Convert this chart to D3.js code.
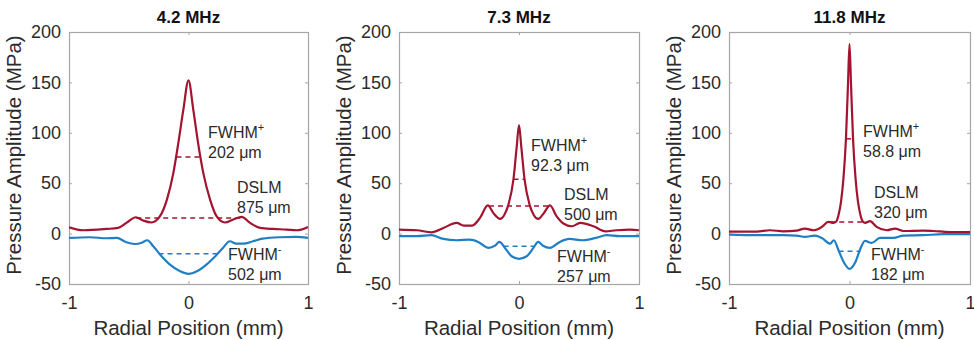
<!DOCTYPE html>
<html>
<head>
<meta charset="utf-8">
<script src="https://cdn.jsdelivr.net/npm/d3@7"></script>
<style>
  html, body { margin: 0; padding: 0; background: #fff; }
  svg { display: block; font-family: "Liberation Sans", Arial, sans-serif; }
</style>
</head>
<body>
<svg id="chart" width="974" height="340"></svg>
<script>
// Focal-plane pressure profiles at three drive frequencies
const titles = ["4.2 MHz", "7.3 MHz", "11.8 MHz"];

// Peak positive pressure profiles, [radial position (mm), pressure (MPa)]
const positive42 = [[-1,6.3],[-0.88,3.3],[-0.685,4.6],[-0.59,5.6],[-0.52,10.6],[-0.44,16.2],[-0.38,13],[-0.31,11],
  [-0.24,17],[-0.18,34],[-0.127,60],[-0.085,90],[-0.043,123],[0,152],[0.04,123],[0.08,90],[0.124,60],[0.18,34],
  [0.236,17],[0.305,11],[0.375,14],[0.445,16.5],[0.515,10.6],[0.6,5.6],[0.71,4.6],[0.82,4],[0.905,3.3],[1,6.6]];
const positive73 = [[-1,4],[-0.85,3.3],[-0.73,1.3],[-0.63,5.6],[-0.52,10.6],[-0.46,8],[-0.39,8],[-0.325,15.6],
  [-0.26,28],[-0.214,20.5],[-0.158,14.6],[-0.125,18],[-0.09,28],[-0.046,54],[-0.02,85],[0,107.6],[0.02,85],
  [0.046,54],[0.09,28],[0.125,18],[0.16,14.6],[0.208,20.5],[0.258,28],[0.314,17],[0.37,10],[0.44,7.3],[0.51,10.6],
  [0.62,7.3],[0.72,2.3],[0.81,3.3],[0.925,4],[1,3.3]];
const positive118 = [[-1,2],[-0.77,2],[-0.66,3.3],[-0.55,2.3],[-0.44,3],[-0.37,5],[-0.3,3.3],[-0.23,6.6],
  [-0.176,11.6],[-0.134,10.6],[-0.11,12],[-0.09,19],[-0.07,32],[-0.05,55],[-0.0294,94],[-0.012,150],[0,188],
  [0.012,150],[0.0294,94],[0.05,55],[0.07,32],[0.09,19],[0.11,12],[0.13,10.6],[0.17,12.3],[0.225,6.6],[0.31,3.3],
  [0.378,5],[0.447,2.6],[0.61,3],[0.695,2.6],[0.83,1.6],[1,1.6]];

// Peak negative pressure profiles, [radial position (mm), pressure (MPa)]
const negative42 = [[-1,-4.3],[-0.825,-3.6],[-0.685,-4.6],[-0.6,-4.3],[-0.52,-8.6],[-0.45,-10.3],[-0.39,-9],
  [-0.345,-6.6],[-0.295,-12.6],[-0.225,-22.5],[-0.155,-30.8],[-0.07,-37.4],[0,-40],[0.07,-37.4],[0.15,-30.8],
  [0.22,-23],[0.29,-14],[0.345,-7.6],[0.4,-10],[0.46,-10],[0.54,-7.6],[0.62,-5],[0.76,-3.6],[0.9,-3.3],[1,-4.3]];
const negative73 = [[-1,-2.6],[-0.85,-2.6],[-0.73,-1.6],[-0.63,-5.3],[-0.52,-6.6],[-0.41,-6],[-0.34,-8.3],
  [-0.255,-14.2],[-0.2,-12],[-0.164,-8.3],[-0.117,-14.2],[-0.061,-22.5],[0,-25],[0.064,-22.5],[0.12,-14.2],
  [0.16,-8.3],[0.2,-12],[0.258,-14.2],[0.34,-8.3],[0.42,-5.3],[0.53,-6.6],[0.64,-4.3],[0.73,-1.6],[0.84,-2.6],[1,-2.6]];
const negative118 = [[-1,-1],[-0.77,-1.6],[-0.55,-1.6],[-0.44,-2],[-0.37,-3.3],[-0.29,-2],[-0.23,-4.3],
  [-0.16,-10],[-0.13,-6.6],[-0.093,-16],[-0.051,-27.6],[0,-35],[0.051,-27.6],[0.087,-16],[0.129,-7.3],
  [0.184,-9.3],[0.253,-4.3],[0.364,-4.3],[0.447,-2],[0.61,-1.6],[0.78,-0.6],[1,-0.6]];

// Beam widths (µm) and the level of the side-lobe maxima (MPa)
const fwhmPositive = [202, 92.3, 58.8];
const fwhmNegative = [502, 257, 182];
const dslmWidth = [875, 500, 320];
const dslmLevel = [15.5, 27.5, 11.5];

// Axis ticks
const xTicks = [-1, 0, 1];
const yTicks = [-50, 0, 50, 100, 150, 200];

const positiveSeries = [positive42, positive73, positive118];
const negativeSeries = [negative42, negative73, negative118];

// Layout
const panelLeft = [69, 399, 729];
const panelRight = [308, 639, 970];
const plotTop = 32, plotBottom = 284;
const labelPos = [
  { fp: [139, 106], dslm: [168, 161], fn: [159, 228] },
  { fp: [132, 119], dslm: [165, 168], fn: [158, 230] },
  { fp: [134, 105], dslm: [145, 166], fn: [142, 228] }
];
const red = "#a2142f", blue = "#1f7fc4";
const boxColor = "#a6a6a6", textColor = "#2b2b2b";
const tickFormat = d => String(d); // plain hyphen-minus for negatives

const svg = d3.select("#chart");

titles.forEach((title, i) => {
  const x = d3.scaleLinear().domain([-1, 1]).range([panelLeft[i], panelRight[i]]);
  const y = d3.scaleLinear().domain([-50, 200]).range([plotBottom, plotTop]);
  const g = svg.append("g");
  const w = panelRight[i] - panelLeft[i];

  const clipId = "clip" + i;
  g.append("clipPath").attr("id", clipId).append("rect")
    .attr("x", panelLeft[i]).attr("y", plotTop).attr("width", w).attr("height", plotBottom - plotTop);

  // Axes with inward ticks on all four sides
  const tickLen = 3;
  const axisB = d3.axisBottom(x).tickValues(xTicks).tickSizeInner(-tickLen).tickSizeOuter(0).tickPadding(12).tickFormat(tickFormat);
  const axisT = d3.axisTop(x).tickValues(xTicks).tickSizeInner(-tickLen).tickSizeOuter(0).tickFormat("");
  const axisL = d3.axisLeft(y).tickValues(yTicks).tickSizeInner(-tickLen).tickSizeOuter(0).tickPadding(8).tickFormat(tickFormat);
  const axisR = d3.axisRight(y).tickValues(yTicks).tickSizeInner(-tickLen).tickSizeOuter(0).tickFormat("");

  const styleAxis = sel => {
    sel.select(".domain").remove();
    sel.selectAll(".tick line").attr("stroke", boxColor);
    sel.selectAll(".tick text").attr("fill", textColor).style("font-size", "18px")
      .style("font-family", "'Liberation Sans', Arial, sans-serif");
  };
  g.append("g").attr("transform", `translate(0,${plotBottom})`).call(axisB).call(styleAxis);
  g.append("g").attr("transform", `translate(0,${plotTop})`).call(axisT).call(styleAxis);
  g.append("g").attr("transform", `translate(${panelLeft[i]},0)`).call(axisL).call(styleAxis);
  g.append("g").attr("transform", `translate(${panelRight[i]},0)`).call(axisR).call(styleAxis);

  g.append("rect").attr("x", panelLeft[i] + 0.5).attr("y", plotTop + 0.5)
    .attr("width", w).attr("height", plotBottom - plotTop)
    .attr("fill", "none").attr("stroke", boxColor).attr("stroke-width", 1.2);

  // Profiles
  const line = d3.line().x(d => x(d[0])).y(d => y(d[1])).curve(d3.curveMonotoneX);
  const plot = g.append("g").attr("clip-path", `url(#${clipId})`);

  // Width markers derived from the stated widths
  const pPeak = d3.max(positiveSeries[i], d => d[1]);
  const nPeak = d3.min(negativeSeries[i], d => d[1]);
  const markers = [
    { half: fwhmPositive[i] / 2000, level: pPeak / 2, color: red },
    { half: dslmWidth[i] / 2000, level: dslmLevel[i], color: red },
    { half: fwhmNegative[i] / 2000, level: nPeak / 2, color: blue }
  ];
  plot.selectAll("line.marker").data(markers).join("line")
    .attr("class", "marker")
    .attr("x1", d => x(-d.half)).attr("x2", d => x(d.half))
    .attr("y1", d => y(d.level)).attr("y2", d => y(d.level))
    .attr("stroke", d => d.color).attr("stroke-width", 1.5)
    .attr("stroke-dasharray", "5,4");

  plot.append("path").datum(positiveSeries[i]).attr("d", line)
    .attr("fill", "none").attr("stroke", red).attr("stroke-width", 2.2).attr("stroke-linejoin", "round");
  plot.append("path").datum(negativeSeries[i]).attr("d", line)
    .attr("fill", "none").attr("stroke", blue).attr("stroke-width", 2.2).attr("stroke-linejoin", "round");

  // Title and axis labels
  g.append("text").attr("x", (panelLeft[i] + panelRight[i]) / 2).attr("y", 23)
    .attr("text-anchor", "middle").attr("font-weight", "bold").attr("font-size", 17)
    .attr("fill", "#111").text(title);
  g.append("text").attr("x", (panelLeft[i] + panelRight[i]) / 2).attr("y", 335)
    .attr("text-anchor", "middle").attr("font-size", 20.5).attr("fill", textColor)
    .text("Radial Position (mm)");
  g.append("text")
    .attr("transform", `translate(${panelLeft[i] - 48},${(plotTop + plotBottom) / 2 - 3}) rotate(-90)`)
    .attr("text-anchor", "middle").attr("font-size", 20.5).attr("fill", textColor)
    .text("Pressure Amplitude (MPa)");

  // Annotations
  const lp = labelPos[i];
  const ann = (pos, head, sup, value) => {
    const t = g.append("text").attr("x", panelLeft[i] + pos[0]).attr("y", plotTop + pos[1])
      .attr("font-size", 16).attr("fill", textColor);
    t.append("tspan").text(head);
    if (sup) t.append("tspan").attr("font-size", 11).attr("dy", -7).text(sup);
    g.append("text").attr("x", panelLeft[i] + pos[0]).attr("y", plotTop + pos[1] + 20)
      .attr("font-size", 16).attr("fill", textColor).text(value + " μm");
  };
  ann(lp.fp, "FWHM", "+", fwhmPositive[i]);
  ann(lp.dslm, "DSLM", null, dslmWidth[i]);
  ann(lp.fn, "FWHM", "-", fwhmNegative[i]);
});
</script>
</body>
</html>
